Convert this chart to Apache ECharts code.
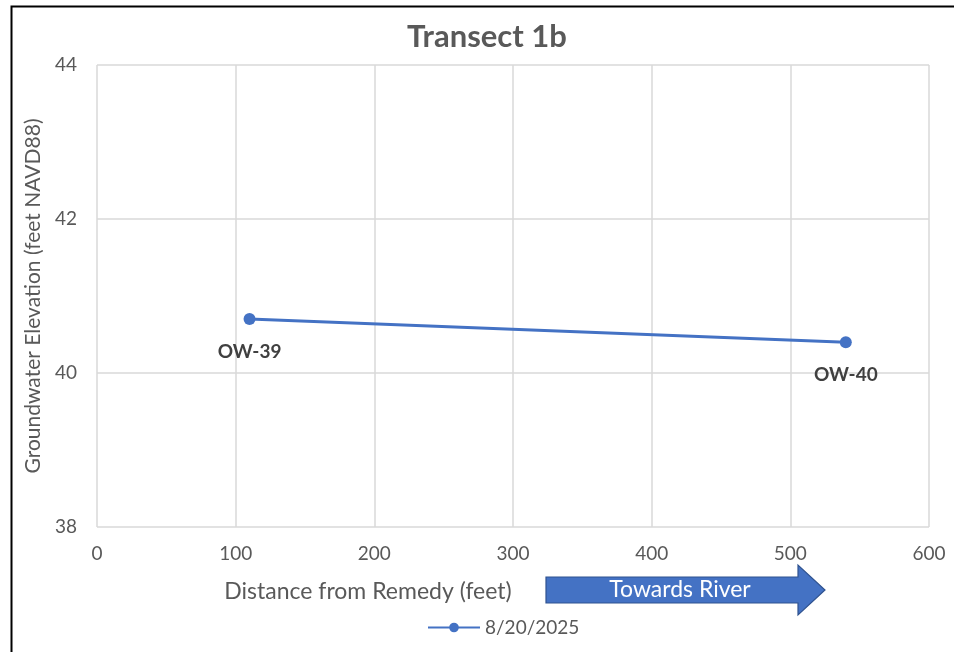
<!DOCTYPE html>
<html>
<head>
<meta charset="utf-8">
<script src="https://cdn.jsdelivr.net/npm/echarts@6/dist/echarts.min.js"></script>
<style>
  html, body { margin: 0; padding: 0; background: #fff; }
  #chart { width: 954px; height: 652px; }
</style>
</head>
<body>
<div id="chart"></div>
<script>
  // data
  var wellNames = ['OW-39', 'OW-40'];
  var distances = [110, 540];
  var elevations = [40.70, 40.40];
  var seriesName = '8/20/2025';

  var chart = echarts.init(document.getElementById('chart'));
  var font = 'Lato, "Open Sans", sans-serif';

  var points = distances.map(function (d, i) {
    return { value: [d, elevations[i]], name: wellNames[i] };
  });

  var option = {
    animation: false,
    title: {
      text: 'Transect 1b',
      left: 482,
      textAlign: 'center',
      top: 16,
      textStyle: { color: '#595959', fontSize: 31, fontWeight: 'bold', fontFamily: font }
    },
    grid: { left: 97, right: 25, top: 65, bottom: 125 },
    legend: {
      top: 613,
      left: 422,
      itemWidth: 52,
      itemHeight: 12,
      itemGap: 4,
      textStyle: { color: '#595959', fontSize: 19, fontFamily: font },
      data: [seriesName]
    },
    xAxis: {
      type: 'value',
      min: 0, max: 600, interval: 100,
      axisLine: { show: false },
      axisTick: { show: false },
      splitLine: { show: true, lineStyle: { color: '#d9d9d9', width: 1.5 } },
      axisLabel: { color: '#595959', fontSize: 19, fontFamily: font, margin: 17 }
    },
    yAxis: {
      type: 'value',
      min: 38, max: 44, interval: 2,
      axisLine: { show: false },
      axisTick: { show: false },
      splitLine: { show: true, lineStyle: { color: '#d9d9d9', width: 1.5 } },
      axisLabel: { color: '#595959', fontSize: 19, fontFamily: font, margin: 20 },
      name: 'Groundwater Elevation (feet NAVD88)',
      nameLocation: 'middle',
      nameGap: 53,
      nameTextStyle: { color: '#595959', fontSize: 21, fontFamily: font }
    },
    series: [{
      name: seriesName,
      type: 'line',
      data: points,
      symbol: 'circle',
      symbolSize: 12,
      lineStyle: { color: '#4472C4', width: 3 },
      itemStyle: { color: '#4472C4' },
      label: {
        show: true,
        position: 'bottom',
        distance: 17,
        formatter: '{b}',
        color: '#404040',
        fontSize: 19,
        fontWeight: 'bold',
        fontFamily: font
      }
    }],
    graphic: [
      {
        type: 'rect',
        shape: { x: 11.5, y: 6.5, width: 1000, height: 700 },
        style: { fill: null, stroke: '#000', lineWidth: 2 },
        silent: true
      },
      {
        type: 'text',
        x: 368, y: 592,
        style: { text: 'Distance from Remedy (feet)', fill: '#595959', fontSize: 23, fontFamily: font, align: 'center', verticalAlign: 'middle' }
      },
      {
        type: 'polygon',
        shape: { points: [[546, 577], [798, 577], [798, 565], [825, 590], [798, 615], [798, 603], [546, 603]] },
        style: { fill: '#4472C4', stroke: '#2F528F', lineWidth: 1.2 }
      },
      {
        type: 'text',
        x: 680, y: 590,
        style: { text: 'Towards River', fill: '#fff', fontSize: 23, fontFamily: font, align: 'center', verticalAlign: 'middle' }
      }
    ]
  };

  chart.setOption(option);
</script>
</body>
</html>
